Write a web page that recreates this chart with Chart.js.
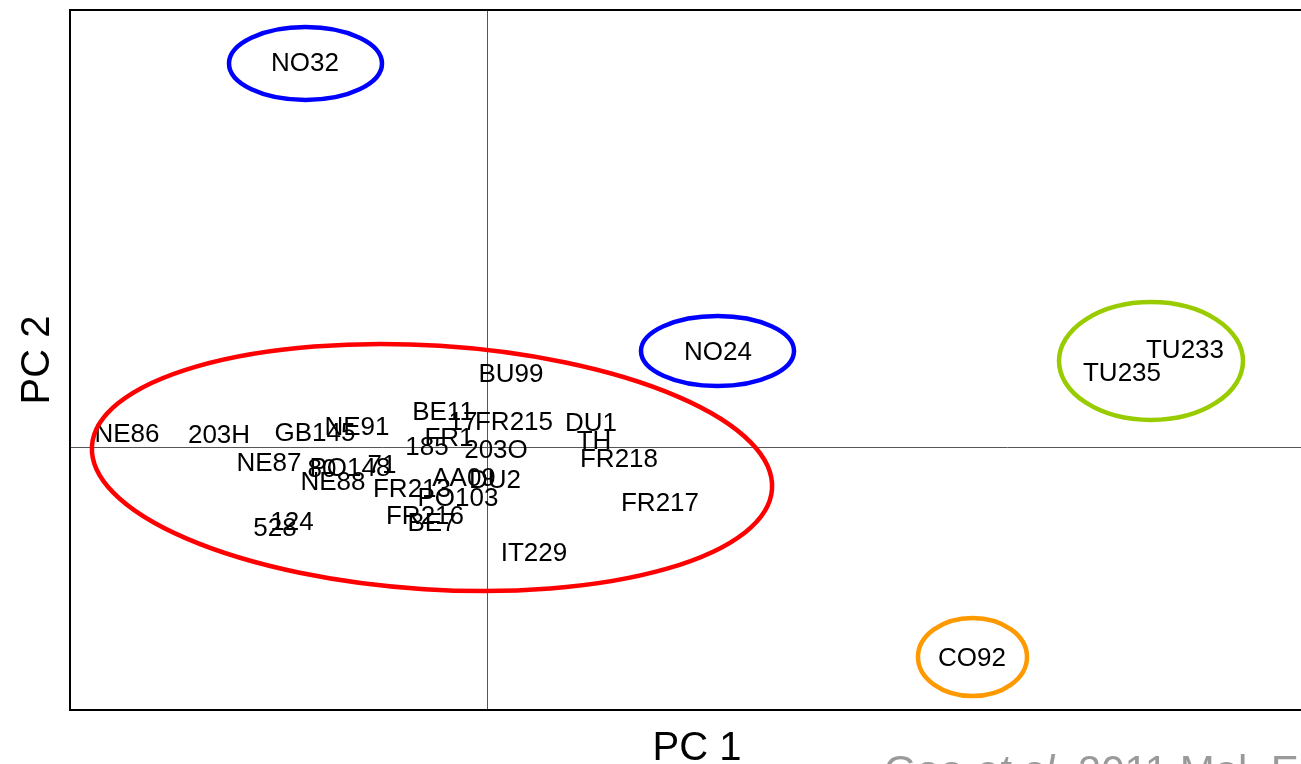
<!DOCTYPE html>
<html>
<head>
<meta charset="utf-8">
<title>PCA</title>
<script src="https://cdn.jsdelivr.net/npm/chart.js@4.4.1/dist/chart.umd.min.js"></script>
<style>
  html, body { margin: 0; padding: 0; background: #fff; overflow: hidden; }
  #wrap { position: relative; width: 1330px; height: 764px; }
  #cite {
    position: absolute; left: 884px; top: 750px; white-space: nowrap;
    font-family: "Liberation Sans", Arial, sans-serif; font-size: 42px; line-height: 1;
    color: #9a9a9a;
  }
</style>
</head>
<body>
<div id="wrap">
  <canvas id="myChart"></canvas>
  <div id="cite">Gao <i>et al.</i> 2011 Mol. Ecol.</div>
</div>
<script>
// sample names and their PC scores (PC1, PC2)
const names = ["NO32", "NO24", "TU233", "TU235", "CO92",
  "NE86", "203H", "GB145", "NE91", "BE11", "17", "FR215", "DU1", "BU99",
  "FR1", "185", "203O", "TH", "FR218", "NE87", "80", "PO148", "71", "NE88",
  "FR213", "AA09", "DU2", "PO103", "FR216", "BE7", "528", "124", "IT229", "FR217"];
const pc1 = [-1.82, 2.31, 6.98, 6.35, 4.85,
  -3.60, -2.68, -1.72, -1.30, -0.44, -0.24, 0.27, 1.04, 0.24,
  -0.38, -0.60, 0.09, 1.07, 1.32, -2.18, -1.65, -1.37, -1.05, -1.54,
  -0.75, -0.23, 0.08, -0.29, -0.62, -0.55, -2.12, -1.95, 0.47, 1.73];
const pc2 = [3.85, 0.96, 0.98, 0.75, -2.10,
  0.14, 0.13, 0.15, 0.21, 0.36, 0.26, 0.26, 0.25, 0.74,
  0.10, 0.01, -0.02, 0.07, -0.11, -0.15, -0.21, -0.20, -0.17, -0.34,
  -0.41, -0.30, -0.32, -0.50, -0.68, -0.75, -0.80, -0.74, -1.05, -0.55];

// group ellipses: centre, half axes, tilt (deg), colour
const groupCx = [-0.55, -1.815, 2.305, 6.64, 4.855];
const groupCy = [-0.205, 3.835, 0.96, 0.86, -2.10];
const groupRx = [3.407, 0.765, 0.765, 0.92, 0.545];
const groupRy = [1.219, 0.365, 0.35, 0.59, 0.39];
const groupTilt = [3.6, 0, 0, 0, 0];
const groupColors = ["#ff0000", "#0000ff", "#0000ff", "#99cc00", "#ff9900"];

const pcaPlugin = {
  id: "pca",
  afterDatasetsDraw(chart) {
    const ctx = chart.ctx;
    const xs = chart.scales.x, ys = chart.scales.y;
    const a = chart.chartArea;
    ctx.save();

    // zero lines
    ctx.strokeStyle = "#555";
    ctx.lineWidth = 1;
    const x0 = Math.round(xs.getPixelForValue(0)) + 0.5;
    const y0 = Math.round(ys.getPixelForValue(0)) + 0.5;
    ctx.beginPath();
    ctx.moveTo(x0, a.top); ctx.lineTo(x0, a.bottom);
    ctx.moveTo(a.left, y0); ctx.lineTo(a.right, y0);
    ctx.stroke();

    // frame
    ctx.strokeStyle = "#000";
    ctx.lineWidth = 2;
    ctx.strokeRect(a.left, a.top, a.right - a.left, a.bottom - a.top);

    // labels
    ctx.fillStyle = "#000";
    ctx.font = "26px 'Liberation Sans', Arial, sans-serif";
    ctx.textAlign = "center";
    ctx.textBaseline = "alphabetic";
    for (let i = 0; i < names.length; i++) {
      const px = xs.getPixelForValue(pc1[i]);
      const py = ys.getPixelForValue(pc2[i]);
      ctx.fillText(names[i], px, py + 9);
    }

    // ellipses
    ctx.lineWidth = 4.5;
    for (let i = 0; i < groupCx.length; i++) {
      const cx = xs.getPixelForValue(groupCx[i]);
      const cy = ys.getPixelForValue(groupCy[i]);
      const rx = xs.getPixelForValue(groupCx[i] + groupRx[i]) - cx;
      const ry = cy - ys.getPixelForValue(groupCy[i] + groupRy[i]);
      ctx.strokeStyle = groupColors[i];
      ctx.beginPath();
      ctx.ellipse(cx, cy, rx, ry, groupTilt[i] * Math.PI / 180, 0, Math.PI * 2);
      ctx.stroke();
    }

    // axis titles
    ctx.font = "40px 'Liberation Sans', Arial, sans-serif";
    ctx.fillText("PC 1", 697, 760);
    ctx.translate(49, 360);
    ctx.rotate(-Math.PI / 2);
    ctx.fillText("PC 2", 0, 0);
    ctx.restore();
  }
};

const ctx = document.getElementById("myChart").getContext("2d");
new Chart(ctx, {
  type: "scatter",
  data: {
    datasets: [{
      data: names.map((n, i) => ({ x: pc1[i], y: pc2[i] })),
      pointRadius: 0,
      pointHoverRadius: 0
    }]
  },
  options: {
    responsive: true,
    maintainAspectRatio: false,
    animation: false,
    layout: { padding: { left: 70, top: 10, right: 10, bottom: 54 } },
    plugins: { legend: { display: false }, tooltip: { enabled: false } },
    scales: {
      x: { display: false, min: -4.17, max: 8.33 },
      y: { display: false, min: -2.63, max: 4.37 }
    }
  },
  plugins: [pcaPlugin]
});
</script>
</body>
</html>
